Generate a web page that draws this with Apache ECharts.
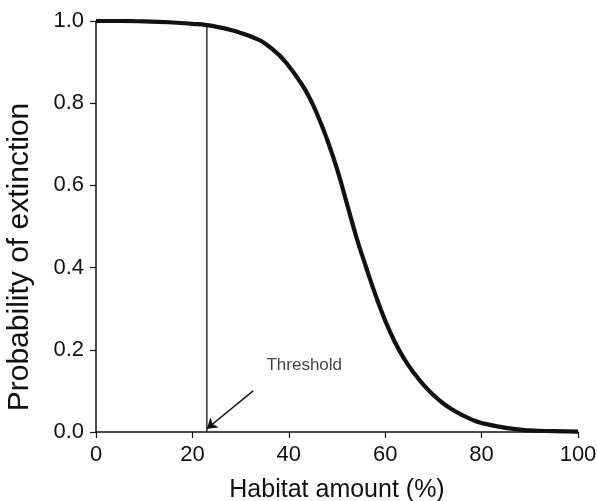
<!DOCTYPE html>
<html>
<head>
<meta charset="utf-8">
<script src="https://cdn.jsdelivr.net/npm/echarts@6/dist/echarts.min.js"></script>
<style>
  html, body { margin: 0; padding: 0; background: #fff; }
  #chart { width: 597px; height: 501px; }
</style>
</head>
<body>
<div id="chart"></div>
<script>
// Extinction probability versus habitat amount
const habitat = [0, 5, 10, 15, 20, 23, 25, 28, 30, 33, 35, 38, 40, 42, 44, 46, 48, 50, 52, 54, 56, 58, 60, 62, 64, 66, 68, 70, 72, 74, 76, 78, 80, 85, 90, 95, 100];
const extinction = [1.000, 1.000, 0.999, 0.997, 0.993, 0.990, 0.986, 0.978, 0.971, 0.958, 0.946, 0.917, 0.890, 0.858, 0.820, 0.770, 0.710, 0.640, 0.558, 0.475, 0.402, 0.333, 0.271, 0.219, 0.177, 0.143, 0.114, 0.090, 0.070, 0.054, 0.041, 0.030, 0.022, 0.010, 0.004, 0.002, 0.001];

// Threshold marker: vertical drop line, arrow and its label
const thresholdX = [23, 23];
const thresholdY = [0, 0.99];
const arrowFrom = [32.6, 0.10];
const arrowTo = [23, 0.008];
const labelPos = [43.2, 0.162];
const labelText = 'Threshold';

const xTicks = [0, 20, 40, 60, 80, 100];
const yTicks = [0.0, 0.2, 0.4, 0.6, 0.8, 1.0];

const FONT = 'Liberation Sans, Arial, Helvetica, sans-serif';
const INK = '#111';

const chart = echarts.init(document.getElementById('chart'), null, { renderer: 'canvas' });

const axisCommon = {
  axisLine: { show: true, onZero: false, lineStyle: { color: INK, width: 1.5 } },
  axisTick: { show: true, inside: false, length: 6, lineStyle: { color: INK, width: 1.2 } },
  splitLine: { show: false },
  axisLabel: { color: INK, fontFamily: FONT, fontSize: 22 }
};

chart.setOption({
  animation: false,
  backgroundColor: '#fff',
  grid: { left: 96, right: 19, top: 21, bottom: 69, containLabel: false, outerBoundsMode: 'none' },
  xAxis: Object.assign({}, axisCommon, {
    type: 'value',
    min: xTicks[0],
    max: xTicks[xTicks.length - 1],
    interval: xTicks[1] - xTicks[0],
    name: 'Habitat amount (%)',
    nameLocation: 'middle',
    nameGap: 46,
    nameTextStyle: { color: INK, fontFamily: FONT, fontSize: 25 },
    axisLabel: Object.assign({}, axisCommon.axisLabel, { margin: 12 })
  }),
  yAxis: Object.assign({}, axisCommon, {
    type: 'value',
    min: yTicks[0],
    max: yTicks[yTicks.length - 1],
    interval: 0.2,
    axisLabel: Object.assign({}, axisCommon.axisLabel, {
      margin: 12,
      formatter: v => v.toFixed(1)
    })
  }),
  graphic: [{
    type: 'text',
    x: 20,
    y: 257,
    rotation: Math.PI / 2,
    style: {
      text: 'Probability of extinction',
      fill: INK,
      font: '30px ' + FONT,
      textAlign: 'center',
      textVerticalAlign: 'middle'
    }
  }],
  series: [
    {
      type: 'line',
      data: habitat.map((h, i) => [h, extinction[i]]),
      smooth: 0.5,
      showSymbol: false,
      lineStyle: { color: INK, width: 4.2, cap: 'butt', join: 'round' },
      z: 3
    },
    {
      type: 'line',
      data: thresholdX.map((x, i) => [x, thresholdY[i]]),
      showSymbol: false,
      lineStyle: { color: INK, width: 1.3 },
      z: 2
    },
    {
      type: 'lines',
      coordinateSystem: 'cartesian2d',
      data: [{ coords: [arrowFrom, arrowTo] }],
      symbol: ['none', 'arrow'],
      symbolSize: 10,
      lineStyle: { color: INK, width: 1.5, opacity: 1 },
      z: 2
    },
    {
      type: 'scatter',
      data: [labelPos],
      symbolSize: 0,
      label: {
        show: true,
        position: 'inside',
        formatter: labelText,
        color: INK,
        fontFamily: FONT,
        fontSize: 17
      },
      z: 4
    }
  ]
});
</script>
</body>
</html>
